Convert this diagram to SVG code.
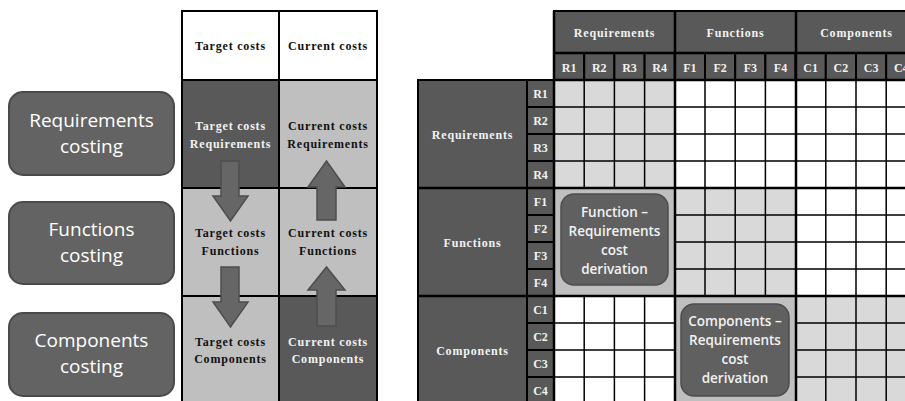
<svg xmlns="http://www.w3.org/2000/svg" width="905" height="401" viewBox="0 0 905 401">
<style>
.bg{fill:#ffffff}
.costbox{fill:#636363;stroke:#4a4a4a;stroke-width:2}
.costtxt{font-family:"Open Sans","Noto Sans",sans-serif;font-size:19px;fill:#ffffff;text-anchor:middle}
.dark{fill:#595959;stroke:#000;stroke-width:2}
.light{fill:#bfbfbf;stroke:#000;stroke-width:2}
.white{fill:#ffffff;stroke:#000;stroke-width:2}
.st{font-family:"Liberation Serif","Times New Roman",serif;font-weight:bold;font-size:12px;letter-spacing:0.8px;text-anchor:middle}
.sl{font-family:"Liberation Serif","Times New Roman",serif;font-weight:bold;font-size:12px;text-anchor:middle;fill:#f2f2f2}
.w{fill:#f2f2f2}
.b{fill:#111}
.arrow{fill:#666666;stroke:#4d4d4d;stroke-width:1.5}
.cellL{fill:#d9d9d9}
.cellW{fill:#ffffff}
.cellM{fill:#bfbfbf}
.thin{stroke:#000;stroke-width:1.5;fill:none}
.thick{stroke:#000;stroke-width:2.5;fill:none}
.derbox{fill:#606060;stroke:#4d4d4d;stroke-width:1.5}
.dertxt{font-family:"Open Sans","Noto Sans",sans-serif;font-weight:600;font-size:13.5px;fill:#f2f2f2;text-anchor:middle}
</style>
<rect class="bg" x="0" y="0" width="905" height="401"/>

<!-- Left costing boxes -->
<g id="req-costing">
<rect class="costbox" x="9" y="92" width="165" height="83" rx="14"/>
<text class="costtxt" x="91.5" y="127">Requirements</text>
<text class="costtxt" x="91.5" y="153">costing</text>
</g>
<g id="fun-costing">
<rect class="costbox" x="9" y="202" width="165" height="82" rx="14"/>
<text class="costtxt" x="91.5" y="236">Functions</text>
<text class="costtxt" x="91.5" y="262">costing</text>
</g>
<g id="comp-costing">
<rect class="costbox" x="9" y="313" width="165" height="83" rx="14"/>
<text class="costtxt" x="91.5" y="347">Components</text>
<text class="costtxt" x="91.5" y="373">costing</text>
</g>

<!-- Left cost table -->
<g id="hdr-target">
<rect class="white" x="182" y="11" width="97" height="69"/>
<text class="st b" x="230.5" y="50">Target costs</text>
</g>
<g id="hdr-current">
<rect class="white" x="279" y="11" width="98" height="69"/>
<text class="st b" x="328" y="50">Current costs</text>
</g>
<g id="target-req">
<rect class="dark" x="182" y="80" width="97" height="108"/>
<text class="st w" x="230.5" y="130">Target costs</text>
<text class="st w" x="230.5" y="148">Requirements</text>
</g>
<g id="current-req">
<rect class="light" x="279" y="80" width="98" height="108"/>
<text class="st b" x="328" y="130">Current costs</text>
<text class="st b" x="328" y="148">Requirements</text>
</g>
<g id="target-fun">
<rect class="light" x="182" y="188" width="97" height="108"/>
<text class="st b" x="230.5" y="237">Target costs</text>
<text class="st b" x="230.5" y="255">Functions</text>
</g>
<g id="current-fun">
<rect class="light" x="279" y="188" width="98" height="108"/>
<text class="st b" x="328" y="237">Current costs</text>
<text class="st b" x="328" y="255">Functions</text>
</g>
<g id="target-comp">
<rect class="light" x="182" y="296" width="97" height="110"/>
<text class="st b" x="230.5" y="346">Target costs</text>
<text class="st b" x="230.5" y="363">Components</text>
</g>
<g id="current-comp">
<rect class="dark" x="279" y="296" width="98" height="110"/>
<text class="st w" x="328" y="346">Current costs</text>
<text class="st w" x="328" y="363">Components</text>
</g>

<!-- Connectors: block arrows -->
<g id="connectors">
<path class="arrow" d="M221,161 H239 V196 H248 L230.5,221 L213,196 H221 Z"/>
<path class="arrow" d="M221,267 H239 V302 H248 L230.5,327 L213,302 H221 Z"/>
<path class="arrow" d="M326.5,161 L345,187 H336 V220 H317 V187 H308 Z"/>
<path class="arrow" d="M326.5,267 L345,290 H336 V326 H317 V290 H308 Z"/>
</g>

<!-- Matrix: cell blocks -->
<g id="matrix-cells">
<rect class="cellL" x="554" y="80" width="121" height="108"/>
<rect class="cellW" x="675" y="80" width="241" height="108"/>
<rect class="cellM" x="554" y="188" width="121" height="108"/>
<rect class="cellL" x="675" y="188" width="121" height="108"/>
<rect class="cellW" x="796" y="188" width="120" height="108"/>
<rect class="cellW" x="554" y="296" width="121" height="110"/>
<rect class="cellM" x="675" y="296" width="121" height="110"/>
<rect class="cellL" x="796" y="296" width="120" height="110"/>
<path class="thin" d="M584.2,80 V188 M614.4,80 V188 M644.6,80 V188 M584.2,296 V406 M614.4,296 V406 M644.6,296 V406 M705,80 V296 M735.2,80 V296 M765.4,80 V296 M825.8,80 V406 M856,80 V406 M886.2,80 V406 M554,107 H916 M554,134 H916 M554,161 H916 M675,215 H916 M675,242 H916 M675,269 H916 M554,323 H675 M554,350 H675 M554,377 H675 M796,323 H916 M796,350 H916 M796,377 H916"/>
</g>

<!-- Matrix column headers -->
<g id="col-requirements">
<rect class="dark" x="554" y="11" width="121" height="42"/>
<text class="st w" x="614.5" y="37">Requirements</text>
</g>
<g id="col-functions">
<rect class="dark" x="675" y="11" width="121" height="42"/>
<text class="st w" x="735.5" y="37">Functions</text>
</g>
<g id="col-components">
<rect class="dark" x="796" y="11" width="122" height="42"/>
<text class="st w" x="856.5" y="37">Components</text>
</g>
<g id="col-sub">
<rect class="dark" x="554" y="53" width="30.2" height="27"/>
<rect class="dark" x="584.2" y="53" width="30.2" height="27"/>
<rect class="dark" x="614.4" y="53" width="30.2" height="27"/>
<rect class="dark" x="644.6" y="53" width="30.2" height="27"/>
<rect class="dark" x="674.8" y="53" width="30.2" height="27"/>
<rect class="dark" x="705" y="53" width="30.2" height="27"/>
<rect class="dark" x="735.2" y="53" width="30.2" height="27"/>
<rect class="dark" x="765.4" y="53" width="30.2" height="27"/>
<rect class="dark" x="795.6" y="53" width="30.2" height="27"/>
<rect class="dark" x="825.8" y="53" width="30.2" height="27"/>
<rect class="dark" x="856" y="53" width="30.2" height="27"/>
<rect class="dark" x="886.2" y="53" width="30.2" height="27"/>
<text class="sl" x="569.1" y="71.5">R1</text>
<text class="sl" x="599.3" y="71.5">R2</text>
<text class="sl" x="629.5" y="71.5">R3</text>
<text class="sl" x="659.7" y="71.5">R4</text>
<text class="sl" x="689.9" y="71.5">F1</text>
<text class="sl" x="720.1" y="71.5">F2</text>
<text class="sl" x="750.3" y="71.5">F3</text>
<text class="sl" x="780.5" y="71.5">F4</text>
<text class="sl" x="810.7" y="71.5">C1</text>
<text class="sl" x="840.9" y="71.5">C2</text>
<text class="sl" x="871.1" y="71.5">C3</text>
<text class="sl" x="901.3" y="71.5">C4</text>
</g>

<!-- Matrix row headers -->
<g id="row-requirements">
<rect class="dark" x="418" y="80" width="109" height="108"/>
<text class="st w" x="472.5" y="139">Requirements</text>
</g>
<g id="row-functions">
<rect class="dark" x="418" y="188" width="109" height="108"/>
<text class="st w" x="472.5" y="247">Functions</text>
</g>
<g id="row-components">
<rect class="dark" x="418" y="296" width="109" height="110"/>
<text class="st w" x="472.5" y="355">Components</text>
</g>
<g id="row-sub">
<rect class="dark" x="527" y="80" width="27" height="27"/>
<rect class="dark" x="527" y="107" width="27" height="27"/>
<rect class="dark" x="527" y="134" width="27" height="27"/>
<rect class="dark" x="527" y="161" width="27" height="27"/>
<rect class="dark" x="527" y="188" width="27" height="27"/>
<rect class="dark" x="527" y="215" width="27" height="27"/>
<rect class="dark" x="527" y="242" width="27" height="27"/>
<rect class="dark" x="527" y="269" width="27" height="27"/>
<rect class="dark" x="527" y="296" width="27" height="27"/>
<rect class="dark" x="527" y="323" width="27" height="27"/>
<rect class="dark" x="527" y="350" width="27" height="27"/>
<rect class="dark" x="527" y="377" width="27" height="29"/>
<text class="sl" x="540.5" y="98">R1</text>
<text class="sl" x="540.5" y="125">R2</text>
<text class="sl" x="540.5" y="152">R3</text>
<text class="sl" x="540.5" y="179">R4</text>
<text class="sl" x="540.5" y="206">F1</text>
<text class="sl" x="540.5" y="233">F2</text>
<text class="sl" x="540.5" y="260">F3</text>
<text class="sl" x="540.5" y="287">F4</text>
<text class="sl" x="540.5" y="314">C1</text>
<text class="sl" x="540.5" y="341">C2</text>
<text class="sl" x="540.5" y="368">C3</text>
<text class="sl" x="540.5" y="395">C4</text>
</g>

<!-- Block boundaries -->
<g id="matrix-borders">
<path class="thick" d="M554,11 V406 M675,11 V406 M796,11 V406 M418,188 H916 M418,296 H916 M554,80 H916 M554,53 H916"/>
</g>

<!-- Derivation boxes -->
<g id="fun-req-derivation">
<rect class="derbox" x="561" y="194" width="107" height="91" rx="13"/>
<text class="dertxt" x="614.5" y="217">Function –</text>
<text class="dertxt" x="614.5" y="236">Requirements</text>
<text class="dertxt" x="614.5" y="255">cost</text>
<text class="dertxt" x="614.5" y="274">derivation</text>
</g>
<g id="comp-req-derivation">
<rect class="derbox" x="681" y="304" width="108" height="92" rx="13"/>
<text class="dertxt" x="735" y="326">Components –</text>
<text class="dertxt" x="735" y="345">Requirements</text>
<text class="dertxt" x="735" y="364">cost</text>
<text class="dertxt" x="735" y="383">derivation</text>
</g>
</svg>
